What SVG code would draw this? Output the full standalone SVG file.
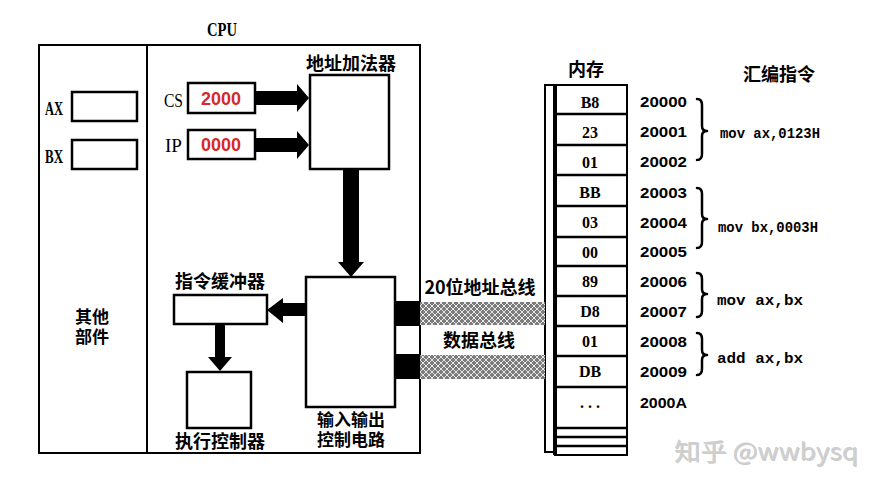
<svg xmlns="http://www.w3.org/2000/svg" width="880" height="489" viewBox="0 0 880 489">
<style>
.box{fill:#fff;stroke:#000;stroke-width:2.5}
.frame{fill:none;stroke:#000;stroke-width:2}
.cn{font-family:"Noto Sans CJK SC","Noto Sans",sans-serif;font-weight:bold;font-size:18px;fill:#000}
.cn2{font-family:"Noto Sans CJK SC","Noto Sans",sans-serif;font-weight:bold;font-size:17px;fill:#000}
.lt{font-family:"Liberation Serif","DejaVu Serif",serif;font-weight:bold;font-size:19px;fill:#000}
.reg{font-family:"Liberation Serif","DejaVu Serif",serif;font-size:19px;fill:#000}
.red{font-family:"Liberation Sans",Arial,sans-serif;font-weight:bold;font-size:18px;fill:#d42a2a}
.hex{font-family:"Liberation Serif","DejaVu Serif",serif;font-weight:bold;font-size:16px;fill:#000}
.addr{font-family:"Liberation Sans",Arial,sans-serif;font-weight:bold;font-size:15px;fill:#000}
.asm{font-family:"Liberation Mono","DejaVu Sans Mono",monospace;font-weight:bold;font-size:15px;fill:#000}
.brace{fill:none;stroke:#000;stroke-width:2.5;stroke-linecap:round;stroke-linejoin:round}
.arrow{fill:#000}
.cell{fill:#fff;stroke:#000;stroke-width:2}
</style>
<defs>
<pattern id="hatch" width="6" height="6" patternUnits="userSpaceOnUse">
<rect width="6" height="6" fill="#7c7c7c"/>
<path d="M0,0 L6,6 M6,0 L0,6" stroke="#e6e6e6" stroke-width="1"/>
</pattern>
</defs>
<rect width="880" height="489" fill="#fff"/>

<g id="cpu">
<rect x="39" y="45" width="381" height="408" class="frame"/>
<line x1="147" y1="45" x2="147" y2="453" stroke="#000" stroke-width="2"/>
<text x="222" y="36" class="lt" text-anchor="middle" textLength="30" lengthAdjust="spacingAndGlyphs">CPU</text>
</g>

<g id="other">
<text class="cn2" text-anchor="middle"><tspan x="92" y="323">其他</tspan><tspan x="92" y="343">部件</tspan></text>
</g>

<g id="ax">
<text x="45" y="115" class="lt" textLength="18" lengthAdjust="spacingAndGlyphs">AX</text>
<rect x="72" y="92" width="65" height="29" class="box"/>
</g>
<g id="bx">
<text x="45" y="163" class="lt" textLength="18" lengthAdjust="spacingAndGlyphs">BX</text>
<rect x="72" y="140" width="65" height="29" class="box"/>
</g>

<g id="cs">
<text x="164" y="107" class="reg" textLength="19" lengthAdjust="spacingAndGlyphs">CS</text>
<rect x="188" y="83" width="67" height="30" class="box"/>
<text x="221" y="105" class="red" text-anchor="middle">2000</text>
</g>
<g id="ip">
<text x="165" y="152" class="reg" textLength="17" lengthAdjust="spacingAndGlyphs">IP</text>
<rect x="188" y="130" width="67" height="29" class="box"/>
<text x="221" y="151" class="red" text-anchor="middle">0000</text>
</g>

<g id="adder">
<text x="351" y="70" class="cn" text-anchor="middle">地址加法器</text>
<rect x="310" y="75" width="79" height="94" class="box"/>
</g>

<g id="io">
<rect x="306" y="277" width="89" height="130" class="box"/>
<text class="cn2" text-anchor="middle"><tspan x="351" y="426">输入输出</tspan><tspan x="351" y="446">控制电路</tspan></text>
</g>

<g id="buffer">
<text x="220" y="288" class="cn" text-anchor="middle">指令缓冲器</text>
<rect x="174" y="295" width="93" height="29" class="box"/>
</g>

<g id="exec">
<rect x="187" y="372" width="64" height="56" class="box"/>
<text x="220" y="448" class="cn" text-anchor="middle">执行控制器</text>
</g>

<g id="memory">
<text x="586" y="76" class="cn" text-anchor="middle">内存</text>
<path d="M555,85 L545,85 L545,452 L555,452" fill="none" stroke="#000" stroke-width="2"/>
<rect x="555" y="85" width="72" height="370" class="cell"/>
<line x1="555" y1="85" x2="555" y2="455" stroke="#000" stroke-width="4"/>
<g stroke="#000" stroke-width="2.5">
<line x1="555" y1="114" x2="627" y2="114"/>
<line x1="555" y1="145" x2="627" y2="145"/>
<line x1="555" y1="175" x2="627" y2="175"/>
<line x1="555" y1="206" x2="627" y2="206"/>
<line x1="555" y1="237" x2="627" y2="237"/>
<line x1="555" y1="266" x2="627" y2="266"/>
<line x1="555" y1="296" x2="627" y2="296"/>
<line x1="555" y1="326" x2="627" y2="326"/>
<line x1="555" y1="356" x2="627" y2="356"/>
<line x1="555" y1="387" x2="627" y2="387"/>
<line x1="555" y1="428" x2="627" y2="428"/>
<line x1="555" y1="437" x2="627" y2="437"/>
<line x1="555" y1="446" x2="627" y2="446"/>
</g>
<g class="hex" text-anchor="middle">
<text x="590" y="108">B8</text>
<text x="590" y="138">23</text>
<text x="590" y="168">01</text>
<text x="590" y="198">BB</text>
<text x="590" y="228">03</text>
<text x="590" y="258">00</text>
<text x="590" y="287">89</text>
<text x="590" y="317">D8</text>
<text x="590" y="347">01</text>
<text x="590" y="377">DB</text>
<text x="590" y="408">. . .</text>
</g>
<g class="addr">
<text x="640" y="107" textLength="47" lengthAdjust="spacingAndGlyphs">20000</text>
<text x="640" y="137" textLength="47" lengthAdjust="spacingAndGlyphs">20001</text>
<text x="640" y="167" textLength="47" lengthAdjust="spacingAndGlyphs">20002</text>
<text x="640" y="198" textLength="47" lengthAdjust="spacingAndGlyphs">20003</text>
<text x="640" y="228" textLength="47" lengthAdjust="spacingAndGlyphs">20004</text>
<text x="640" y="257" textLength="47" lengthAdjust="spacingAndGlyphs">20005</text>
<text x="640" y="287" textLength="47" lengthAdjust="spacingAndGlyphs">20006</text>
<text x="640" y="317" textLength="47" lengthAdjust="spacingAndGlyphs">20007</text>
<text x="640" y="347" textLength="47" lengthAdjust="spacingAndGlyphs">20008</text>
<text x="640" y="377" textLength="47" lengthAdjust="spacingAndGlyphs">20009</text>
<text x="640" y="408" textLength="47" lengthAdjust="spacingAndGlyphs">2000A</text>
</g>
</g>

<g id="asm">
<text x="779" y="81" class="cn" text-anchor="middle">汇编指令</text>
<path class="brace" d="M697,99 Q702,99 702,105 L702,126 Q702,131 707,131 Q702,131 702,136 L702,154 Q702,160 697,160"/>
<path class="brace" d="M697,188 Q702,188 702,194 L702,214 Q702,219 707,219 Q702,219 702,224 L702,242 Q702,248 697,248"/>
<path class="brace" d="M697,273 Q702,273 702,279 L702,289 Q702,294 707,294 Q702,294 702,299 L702,311 Q702,317 697,317"/>
<path class="brace" d="M697,333 Q702,333 702,339 L702,350 Q702,355 707,355 Q702,355 702,360 L702,369 Q702,375 697,375"/>
<text x="720" y="138" class="asm" textLength="100" lengthAdjust="spacingAndGlyphs">mov ax,0123H</text>
<text x="718" y="232" class="asm" textLength="100" lengthAdjust="spacingAndGlyphs">mov bx,0003H</text>
<text x="717" y="305" class="asm" textLength="86" lengthAdjust="spacingAndGlyphs">mov ax,bx</text>
<text x="717" y="363" class="asm" textLength="86" lengthAdjust="spacingAndGlyphs">add ax,bx</text>
</g>

<g id="connectors">
<polygon class="arrow" points="255,91 297,91 297,84 309,98 297,112 297,105 255,105"/>
<polygon class="arrow" points="255,138 297,138 297,131 309,145 297,159 297,152 255,152"/>
<polygon class="arrow" points="343,169 359,169 359,262 364,262 351,277 338,262 343,262"/>
<polygon class="arrow" points="306,303 283,303 283,298 267,310 283,323 283,316 306,316"/>
<polygon class="arrow" points="215,324 225,324 225,357 232,357 220,371 208,357 215,357"/>
<rect x="395" y="301" width="25" height="25" fill="#000"/>
<rect x="395" y="354" width="25" height="25" fill="#000"/>
<rect x="420" y="302" width="125" height="23" fill="url(#hatch)"/>
<rect x="420" y="355" width="125" height="24" fill="url(#hatch)"/>
<text x="480" y="294" class="cn" text-anchor="middle">20位地址总线</text>
<text x="479" y="347" class="cn" text-anchor="middle">数据总线</text>
</g>

<g id="watermark">
<text x="674" y="460" font-family="'Noto Sans CJK SC','Noto Sans',sans-serif" font-size="24" fill="#999" opacity="0.5" textLength="184" lengthAdjust="spacingAndGlyphs" transform="translate(1,1)">知乎 @wwbysq</text>
<text x="674" y="460" font-family="'Noto Sans CJK SC','Noto Sans',sans-serif" font-size="24" fill="#cfcfcf" textLength="184" lengthAdjust="spacingAndGlyphs">知乎 @wwbysq</text>
</g>
</svg>
